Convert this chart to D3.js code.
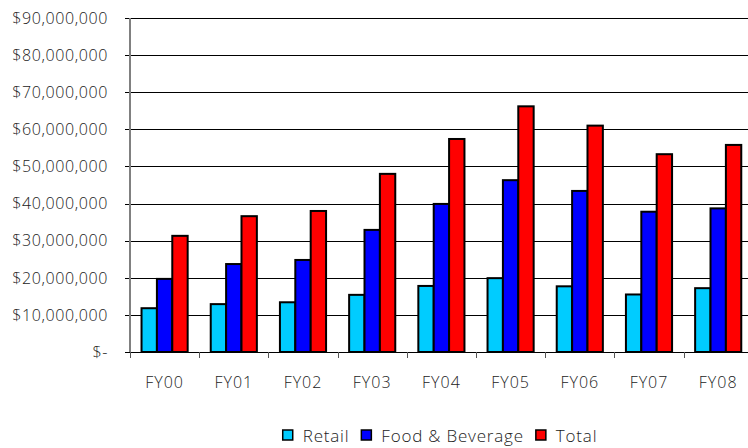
<!DOCTYPE html>
<html>
<head>
<meta charset="utf-8">
<script src="https://cdn.jsdelivr.net/npm/d3@7"></script>
<style>
  body { margin: 0; background: #fff; }
  svg { display: block; }
  text { font-family: "Open Sans", "DejaVu Sans", sans-serif; font-weight: 300; fill: #222; }
</style>
</head>
<body>
<svg></svg>
<script>
// years and series (dollars)
const years = ["FY00", "FY01", "FY02", "FY03", "FY04", "FY05", "FY06", "FY07", "FY08"]
const seriesNames = ["Retail", "Food & Beverage", "Total"]
const retail = [11.8e6, 12.9e6, 13.4e6, 15.4e6, 17.8e6, 19.9e6, 17.7e6, 15.5e6, 17.2e6]
const foodBev = [19.7e6, 23.7e6, 24.8e6, 32.9e6, 39.9e6, 46.3e6, 43.4e6, 37.8e6, 38.7e6]
const total = [31.3e6, 36.6e6, 38.0e6, 48.0e6, 57.4e6, 66.2e6, 61.0e6, 53.3e6, 55.8e6]
const yTicks = [0, 10e6, 20e6, 30e6, 40e6, 50e6, 60e6, 70e6, 80e6, 90e6]

const colours = ["#00CCFF", "#0000FF", "#FF0000"]

const width = 748
const height = 448
const plotLeft = 130
const plotTop = 18
const plotBottom = 352
const step = 69.2

const svg = d3.select("svg").attr("width", width).attr("height", height)

const x = d3.scaleBand().domain(years).range([plotLeft, plotLeft + step * years.length]).padding(0)
const xs = d3.scaleBand().domain(seriesNames).range([0, x.bandwidth()]).paddingInner(0).paddingOuter(0.75)
const y = d3.scaleLinear().domain([0, 90e6]).range([plotBottom, plotTop])

const fmt = v => v === 0 ? "$-" : "$" + d3.format(",")(v)

// gridlines
svg.append("g")
  .selectAll("line")
  .data(yTicks.filter(d => d > 0))
  .join("line")
    .attr("x1", plotLeft - 5)
    .attr("x2", width)
    .attr("y1", d => Math.round(y(d)) + 0.5)
    .attr("y2", d => Math.round(y(d)) + 0.5)
    .attr("stroke", "#000")
    .attr("stroke-width", 1)

// y axis labels
svg.append("g")
  .selectAll("text")
  .data(yTicks)
  .join("text")
    .attr("x", 108)
    .attr("y", d => y(d))
    .attr("dy", "0.36em")
    .attr("text-anchor", "end")
    .style("font-size", "16px")
    .style("letter-spacing", "0.6px")
    .text(fmt)

// bars
const rows = years.map((yr, i) => ({ yr, vals: [retail[i], foodBev[i], total[i]] }))
const groups = svg.append("g")
  .selectAll("g")
  .data(rows)
  .join("g")
    .attr("transform", d => `translate(${x(d.yr)},0)`)

groups.selectAll("rect")
  .data(d => d.vals.map((v, j) => ({ name: seriesNames[j], v, j })))
  .join("rect")
    .attr("x", d => xs(d.name))
    .attr("y", d => y(d.v))
    .attr("width", xs.bandwidth())
    .attr("height", d => plotBottom - y(d.v))
    .attr("fill", d => colours[d.j])
    .attr("stroke", "#000")
    .attr("stroke-width", 2)

// axes lines
svg.append("line")
  .attr("x1", plotLeft).attr("x2", plotLeft)
  .attr("y1", plotTop).attr("y2", plotBottom)
  .attr("stroke", "#808080").attr("stroke-width", 2)

svg.append("line")
  .attr("x1", plotLeft - 5).attr("x2", width)
  .attr("y1", plotBottom + 0.5).attr("y2", plotBottom + 0.5)
  .attr("stroke", "#000")

// category ticks
svg.append("g")
  .selectAll("line")
  .data(years)
  .join("line")
    .attr("x1", d => Math.round(x(d)) + 0.5)
    .attr("x2", d => Math.round(x(d)) + 0.5)
    .attr("y1", plotBottom)
    .attr("y2", plotBottom + 6)
    .attr("stroke", "#555")

// x labels
svg.append("g")
  .selectAll("text")
  .data(years)
  .join("text")
    .attr("x", d => x(d) + x.bandwidth() / 2)
    .attr("y", 388)
    .attr("text-anchor", "middle")
    .style("font-size", "16px")
    .style("letter-spacing", "1px")
    .text(d => d)

// legend: lay out items one after the other, centred on the plot
const legend = svg.append("g")
const items = legend.selectAll("g")
  .data(seriesNames)
  .join("g")

items.append("rect")
  .attr("width", 10).attr("height", 10)
  .attr("y", 1)
  .attr("fill", (d, i) => colours[i])
  .attr("stroke", "#000").attr("stroke-width", 1.5)

items.append("text")
  .attr("x", 20)
  .attr("y", 13)
  .style("font-size", "17px")
  .style("letter-spacing", "0.8px")
  .text(d => d)

let cursor = 0
items.each(function() {
  const w = 20 + d3.select(this).select("text").node().getComputedTextLength()
  d3.select(this).attr("transform", `translate(${cursor},0)`)
  cursor += w + 12
})
legend.attr("transform", `translate(${440 - (cursor - 12) / 2},429)`)
</script>
</body>
</html>
